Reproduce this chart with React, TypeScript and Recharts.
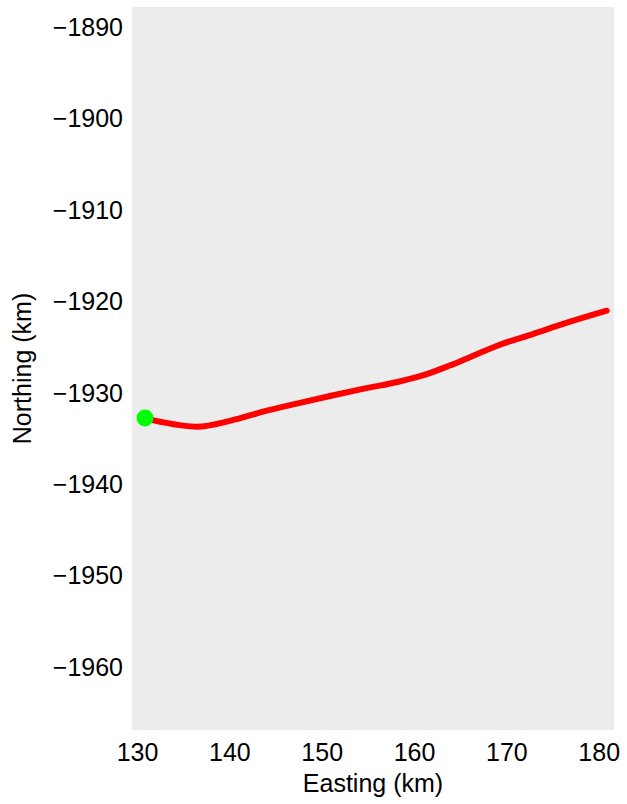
import React from "react";
import {
  ComposedChart,
  Line,
  Scatter,
  XAxis,
  YAxis,
  CartesianGrid,
  Label,
} from "recharts";

const eastings = [
  130.81, 132.82, 136.44, 140.09, 143.7, 147.36, 150.96, 154.64, 158.27,
  161.14, 163.74, 165.54, 169.16, 172.81, 176.42, 180.81,
];
const northings = [
  -1932.77, -1933.25, -1933.72, -1933.06, -1932.05, -1931.17, -1930.33,
  -1929.53, -1928.8, -1928.03, -1927.05, -1926.31, -1924.78, -1923.58,
  -1922.37, -1921.03,
];
const startPoint = [{ e: 130.81, n: -1932.77 }];
const xTicks = [130, 140, 150, 160, 170, 180];
const yTicks = [-1960, -1950, -1940, -1930, -1920, -1910, -1900, -1890];

const track = eastings.map((e, i) => ({ e, n: northings[i] }));

const fmtY = (v: number) => (v < 0 ? "\u2212" + Math.abs(v) : String(v));

const FONT = "Liberation Sans, Arial, sans-serif";

export default function App() {
  return (
    <div style={{ position: "absolute", left: 0, top: 0, width: 627, height: 804, background: "#fff" }}>
      <ComposedChart
        width={627}
        height={804}
        data={track}
        margin={{ top: 7, right: 13, left: 0, bottom: 0 }}
      >
        <CartesianGrid
          horizontal={false}
          vertical={false}
          fill="#ececec"
          stroke="none"
        />
        <XAxis
          type="number"
          dataKey="e"
          domain={[129.4, 181.6]}
          ticks={xTicks}
          allowDataOverflow
          height={74}
          tickLine={false}
          axisLine={false}
          tickSize={0}
          tickMargin={13}
          tick={{ fill: "#000", fontSize: 25, fontFamily: FONT }}
        >
          <Label
            value="Easting (km)"
            position="insideBottom"
            offset={12}
            style={{ fill: "#000", fontSize: 25, fontFamily: FONT }}
          />
        </XAxis>
        <YAxis
          type="number"
          dataKey="n"
          domain={[-1966.9, -1887.8]}
          ticks={yTicks}
          allowDataOverflow
          width={132}
          tickLine={false}
          axisLine={false}
          tickSize={0}
          tickMargin={9}
          tickFormatter={fmtY}
          tick={{ fill: "#000", fontSize: 25, fontFamily: FONT }}
        >
          <Label
            value="Northing (km)"
            angle={-90}
            position="insideLeft"
            offset={22}
            style={{ fill: "#000", fontSize: 25, fontFamily: FONT, textAnchor: "middle" }}
          />
        </YAxis>
        <Line
          type="monotone"
          dataKey="n"
          stroke="#ff0000"
          strokeWidth={6}
          strokeLinecap="round"
          dot={false}
          activeDot={false}
          isAnimationActive={false}
        />
        <Scatter
          data={startPoint}
          dataKey="n"
          fill="#00ff00"
          shape={(p: any) => <circle cx={p.cx} cy={p.cy} r={8.5} fill="#00ff00" />}
          isAnimationActive={false}
        />
      </ComposedChart>
    </div>
  );
}
